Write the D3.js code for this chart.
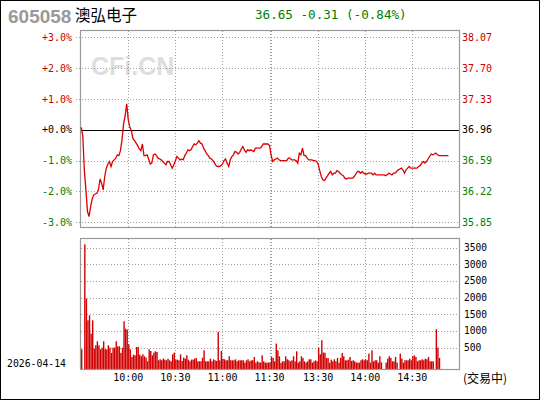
<!DOCTYPE html>
<html>
<head>
<meta charset="utf-8">
<script src="https://cdn.jsdelivr.net/npm/d3@7"></script>
<style>
  body { margin: 0; background: #fff; }
  svg { display: block; }
</style>
</head>
<body>
<div id="chart"></div>
<script>
'use strict';

const stockCode = '605058';
const stockName = '澳弘电子';
const quoteText = '36.65 -0.31 (-0.84%)';
const tradeDate = '2026-04-14';
const statusText = '(交易中)';
const prevClose = 36.96;

const pctTicks = [3, 2, 1, 0, -1, -2, -3];
const pctLabels = ['+3.0%', '+2.0%', '+1.0%', '+0.0%', '-1.0%', '-2.0%', '-3.0%'];
const priceLabels = ['38.07', '37.70', '37.33', '36.96', '36.59', '36.22', '35.85'];
const volTicks = [3500, 3000, 2500, 2000, 1500, 1000, 500];

// minute index: 0 = 9:30, 120 = 11:30, 121 = 13:00, 241 = 15:00
const timeGrid = [30, 60, 90, 120, 121, 151, 181, 211];
const timeTicks = [30, 60, 90, 120, 151, 181, 211];
const timeLabels = ['10:00', '10:30', '11:00', '11:30', '13:30', '14:00', '14:30'];

const prices = [
  36.99, 36.89, 36.48, 36.24, 35.98, 35.92, 36.04, 36.13, 36.18, 36.19,
  36.20, 36.24, 36.37, 36.32, 36.24, 36.40, 36.50, 36.55, 36.58, 36.52,
  36.58, 36.60, 36.62, 36.66, 36.65, 36.71, 36.84, 37.03, 37.13, 37.27,
  37.08, 36.99, 36.95, 36.85, 36.83, 36.80, 36.77, 36.73, 36.71, 36.79,
  36.65, 36.65, 36.66, 36.61, 36.55, 36.56, 36.66, 36.67, 36.65, 36.62,
  36.61, 36.60, 36.58, 36.56, 36.54, 36.58, 36.58, 36.54, 36.50, 36.54,
  36.59, 36.64, 36.62, 36.60, 36.61, 36.60, 36.65, 36.68, 36.72, 36.71,
  36.72, 36.76, 36.79, 36.78, 36.80, 36.83, 36.80, 36.79, 36.74, 36.71,
  36.67, 36.65, 36.62, 36.61, 36.59, 36.56, 36.53, 36.52, 36.52, 36.53,
  36.55, 36.59, 36.61, 36.56, 36.52, 36.60, 36.64, 36.66, 36.70, 36.69,
  36.67, 36.69, 36.73, 36.76, 36.72, 36.69, 36.72, 36.71, 36.72, 36.71,
  36.70, 36.74, 36.74, 36.74, 36.74, 36.76, 36.79, 36.79, 36.79, 36.79,
  36.77, 36.66, 36.58, 36.60, 36.61, 36.62, 36.60, 36.59, 36.59, 36.59,
  36.59, 36.59, 36.62, 36.62, 36.60, 36.60, 36.60, 36.59, 36.56, 36.68,
  36.66, 36.74, 36.65, 36.65, 36.62, 36.60, 36.60, 36.60, 36.59, 36.59,
  36.58, 36.55, 36.47, 36.40, 36.36, 36.35, 36.38, 36.41, 36.44, 36.46,
  36.42, 36.44, 36.44, 36.47, 36.46, 36.44, 36.42, 36.41, 36.38, 36.37,
  36.38, 36.38, 36.38, 36.38, 36.40, 36.43, 36.46, 36.46, 36.44, 36.46,
  36.44, 36.43, 36.43, 36.44, 36.44, 36.44, 36.42, 36.44, 36.42, 36.42,
  36.42, 36.42, 36.42, 36.42, 36.41, 36.42, 36.44, 36.43, 36.42, 36.44,
  36.44, 36.46, 36.48, 36.49, 36.50, 36.48, 36.44, 36.48, 36.50, 36.52,
  36.50, 36.50, 36.50, 36.50, 36.50, 36.52, 36.53, 36.56, 36.58, 36.56,
  36.58, 36.61, 36.64, 36.67, 36.66, 36.67, 36.68, 36.66, 36.65, 36.65,
  36.65, 36.65, 36.65, 36.65, 36.65
];

const volumes = [
  450, 0, 3600, 1970, 1320, 1470, 920, 1320, 470, 570,
  690, 570, 450, 500, 690, 450, 450, 570, 500, 340,
  500, 500, 690, 540, 540, 340, 500, 1290, 1070, 1040,
  600, 450, 220, 290, 270, 520, 520, 290, 240, 300,
  240, 200, 90, 450, 400, 270, 350, 390, 370, 120,
  150, 120, 170, 140, 120, 170, 120, 90, 300, 350,
  140, 140, 120, 300, 100, 200, 170, 270, 140, 90,
  140, 140, 170, 190, 90, 90, 90, 200, 420, 90,
  90, 90, 170, 90, 150, 120, 100, 970, 120, 400,
  170, 150, 120, 120, 240, 120, 120, 120, 150, 90,
  120, 120, 120, 120, 50, 120, 150, 90, 120, 120,
  220, 50, 90, 60, 50, 270, 90, 50, 50, 50,
  60, 220, 190, 90, 620, 420, 240, 40, 90, 90,
  240, 150, 120, 90, 120, 240, 90, 390, 50, 90,
  240, 190, 90, 50, 90, 150, 150, 50, 90, 120,
  90, 500, 300, 720, 350, 350, 190, 190, 50, 140,
  90, 150, 90, 190, 50, 190, 340, 240, 120, 120,
  140, 220, 100, 120, 90, 50, 50, 50, 120, 150,
  120, 150, 120, 320, 50, 420, 90, 120, 120, 50,
  240, 60, 0, 0, 50, 170, 240, 190, 90, 90,
  220, 50, 0, 320, 170, 50, 120, 120, 120, 170,
  120, 240, 270, 220, 90, 120, 120, 150, 120, 170,
  150, 220, 90, 90, 90, 0, 1050, 500, 190
];

const width = 540;
const height = 400;
const red = '#cc0000';
const green = '#008000';
const gridColor = '#a0a0a0';
const frameColor = '#999999';
const monoFont = '"DejaVu Sans Mono", monospace';

const priceBox = { left: 80.5, right: 459.5, top: 30.5, bottom: 227.5 };
const volBox = { left: 80.5, right: 459.5, top: 238.5, bottom: 369.5 };

const x = d3.scaleLinear([0, 241], [81.2, 459.4]);
const y = d3.scaleLinear([prevClose * 0.97, prevClose * 1.03], [222.3, 37.3]);
// the volume floor of the original sits a little below zero
const yVol = d3.scaleLinear([-150, 3780], [369.3, 238.3]);
const pctToPrice = (p) => prevClose * (1 + p / 100);
const labelColor = (p) => (p > 0 ? red : (p < 0 ? green : '#000'));

const svg = d3.select('#chart')
  .append('svg')
  .attr('width', width)
  .attr('height', height)
  .attr('viewBox', [0, 0, width, height]);

svg.append('rect')
  .attr('x', 0.5)
  .attr('y', 0.5)
  .attr('width', width - 1)
  .attr('height', height - 1)
  .attr('fill', '#fff')
  .attr('stroke', '#000');

// header
svg.append('text')
  .attr('x', 8)
  .attr('y', 23)
  .attr('font-family', 'Liberation Sans, Arial, sans-serif')
  .attr('font-weight', 'bold')
  .attr('font-size', 19)
  .attr('fill', '#999')
  .text(stockCode);

svg.append('text')
  .attr('x', 75)
  .attr('y', 21)
  .attr('font-family', '"Noto Sans CJK SC", sans-serif')
  .attr('font-size', 15.5)
  .attr('fill', '#000')
  .text(stockName);

svg.append('text')
  .attr('x', 255)
  .attr('y', 19)
  .attr('font-family', monoFont)
  .attr('font-size', 12.6)
  .attr('fill', green)
  .attr('xml:space', 'preserve')
  .text(quoteText);

// watermark
svg.append('text')
  .attr('x', 91)
  .attr('y', 75)
  .attr('font-family', 'Liberation Sans, Arial, sans-serif')
  .attr('font-weight', 'bold')
  .attr('font-size', 25)
  .attr('fill', '#dedede')
  .text('CFi.CN');

// price panel grid
const priceGrid = svg.append('g')
  .attr('stroke', gridColor)
  .attr('stroke-dasharray', '1,2')
  .attr('shape-rendering', 'crispEdges');

priceGrid.selectAll('line.h')
  .data(pctTicks.filter((p) => p !== 0))
  .join('line')
  .attr('class', 'h')
  .attr('x1', 76)
  .attr('x2', priceBox.right)
  .attr('y1', (p) => Math.round(y(pctToPrice(p))) + 0.5)
  .attr('y2', (p) => Math.round(y(pctToPrice(p))) + 0.5);

priceGrid.selectAll('line.v')
  .data(timeGrid)
  .join('line')
  .attr('class', 'v')
  .attr('x1', (t) => Math.round(x(t)) + 0.5)
  .attr('x2', (t) => Math.round(x(t)) + 0.5)
  .attr('y1', priceBox.top)
  .attr('y2', priceBox.bottom);

svg.append('line')
  .attr('x1', priceBox.left)
  .attr('x2', priceBox.right)
  .attr('y1', Math.round(y(prevClose)) + 0.5)
  .attr('y2', Math.round(y(prevClose)) + 0.5)
  .attr('stroke', '#000')
  .attr('stroke-width', 1.2);

svg.append('rect')
  .attr('x', priceBox.left)
  .attr('y', priceBox.top)
  .attr('width', priceBox.right - priceBox.left)
  .attr('height', priceBox.bottom - priceBox.top)
  .attr('fill', 'none')
  .attr('stroke', frameColor)
  .attr('stroke-width', 1.2);

const priceLine = d3.line()
  .x((d, i) => x(i))
  .y((d) => y(d));

svg.append('path')
  .attr('d', priceLine(prices))
  .attr('fill', 'none')
  .attr('stroke', '#dd0000')
  .attr('stroke-width', 1.3)
  .attr('stroke-linejoin', 'miter');

// price axis labels
svg.append('g')
  .selectAll('text')
  .data(pctTicks)
  .join('text')
  .attr('x', 72)
  .attr('y', (p) => y(pctToPrice(p)))
  .attr('dy', '0.36em')
  .attr('text-anchor', 'end')
  .attr('font-family', monoFont)
  .attr('font-size', 10)
  .attr('fill', labelColor)
  .text((p, i) => pctLabels[i]);

svg.append('g')
  .selectAll('text')
  .data(pctTicks)
  .join('text')
  .attr('x', 462)
  .attr('y', (p) => y(pctToPrice(p)))
  .attr('dy', '0.36em')
  .attr('font-family', monoFont)
  .attr('font-size', 10)
  .attr('fill', labelColor)
  .text((p, i) => priceLabels[i]);

// volume panel
const volGrid = svg.append('g')
  .attr('stroke', gridColor)
  .attr('stroke-dasharray', '1,2')
  .attr('shape-rendering', 'crispEdges');

volGrid.selectAll('line.h')
  .data(volTicks)
  .join('line')
  .attr('class', 'h')
  .attr('x1', volBox.left)
  .attr('x2', volBox.right)
  .attr('y1', (v) => Math.round(yVol(v)) + 0.5)
  .attr('y2', (v) => Math.round(yVol(v)) + 0.5);

volGrid.selectAll('line.v')
  .data(timeGrid)
  .join('line')
  .attr('class', 'v')
  .attr('x1', (t) => Math.round(x(t)) + 0.5)
  .attr('x2', (t) => Math.round(x(t)) + 0.5)
  .attr('y1', volBox.top)
  .attr('y2', volBox.bottom);

svg.append('g')
  .attr('fill', '#d00000')
  .selectAll('rect')
  .data(volumes.map((v, i) => ({ v, i })).filter((d) => d.v > 0))
  .join('rect')
  .attr('x', (d) => x(d.i) - 0.2)
  .attr('width', 1.4)
  .attr('y', (d) => yVol(d.v))
  .attr('height', (d) => yVol.range()[0] - yVol(d.v));

svg.append('rect')
  .attr('x', volBox.left)
  .attr('y', volBox.top)
  .attr('width', volBox.right - volBox.left)
  .attr('height', volBox.bottom - volBox.top)
  .attr('fill', 'none')
  .attr('stroke', frameColor)
  .attr('stroke-width', 1.2);

svg.append('g')
  .selectAll('text')
  .data(volTicks)
  .join('text')
  .attr('x', 464)
  .attr('y', (v) => yVol(v))
  .attr('dy', '0.36em')
  .attr('font-family', monoFont)
  .attr('font-size', 9.6)
  .attr('fill', '#000')
  .text((v) => v);

// time axis
svg.append('g')
  .selectAll('text')
  .data(timeTicks)
  .join('text')
  .attr('x', (t) => x(t))
  .attr('y', 381)
  .attr('text-anchor', 'middle')
  .attr('font-family', monoFont)
  .attr('font-size', 10)
  .attr('fill', '#000')
  .text((t, i) => timeLabels[i]);

svg.append('text')
  .attr('x', 7)
  .attr('y', 367)
  .attr('font-family', monoFont)
  .attr('font-size', 9.8)
  .attr('fill', '#000')
  .text(tradeDate);

svg.append('text')
  .attr('x', 463)
  .attr('y', 383)
  .attr('font-family', '"Noto Sans CJK SC", sans-serif')
  .attr('font-size', 12)
  .attr('fill', '#000')
  .text(statusText);
</script>
</body>
</html>
